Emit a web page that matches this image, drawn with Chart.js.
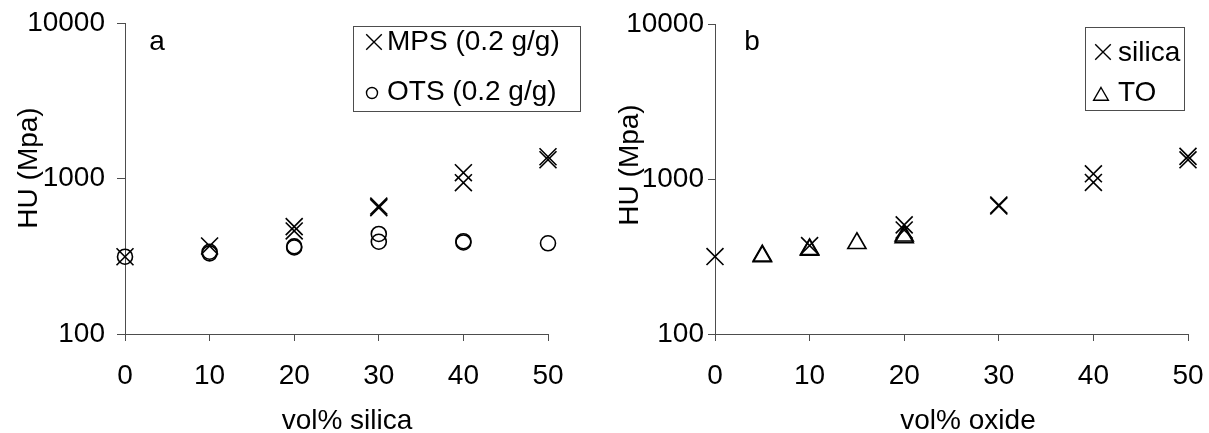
<!DOCTYPE html>
<html>
<head>
<meta charset="utf-8">
<script src="https://cdn.jsdelivr.net/npm/chart.js@4.4.1/dist/chart.umd.min.js"></script>
<style>
  html, body { margin: 0; padding: 0; background: #fff; }
  #wrap { position: relative; width: 1209px; height: 433px; overflow: hidden; }
  .panel { position: absolute; top: 0; }
  #panelA { left: 0; }
  #panelB { left: 600px; }
</style>
</head>
<body>
<div id="wrap">
  <div class="panel" id="panelA"><canvas id="chartA" width="600" height="433"></canvas></div>
  <div class="panel" id="panelB"><canvas id="chartB" width="609" height="433"></canvas></div>
</div>
<script>
// Axis ticks shared by both panels
const yTickValues = [100, 1000, 10000];
const xTickValues = [0, 10, 20, 30, 40, 50];

// Panel a: universal hardness vs silica content, two silane treatments
const mpsVol = [0, 10, 20, 20, 30, 30, 40, 40, 50, 50];
const mpsHU  = [314, 368, 490, 460, 650, 665, 1090, 940, 1380, 1320];
const otsVol = [0, 10, 10, 20, 20, 30, 30, 40, 40, 50];
const otsHU  = [314, 330, 338, 360, 366, 440, 392, 388, 395, 383];

// Panel b: universal hardness vs oxide content
const silicaVol = [0, 10, 20, 20, 30, 30, 40, 40, 50, 50];
const silicaHU  = [316, 372, 506, 469, 670, 680, 1080, 950, 1400, 1330];
const toVol = [5, 5, 10, 10, 15, 20, 20];
const toHU  = [316, 320, 348, 352, 385, 420, 430];

const FONT = '"Liberation Sans", Arial, sans-serif';
const FONT_SIZE = 28;
const AXIS_COLOR = '#4d4d4d';

const toPoints = (xs, ys) => xs.map((x, i) => ({ x, y: ys[i] }));

// Panel letter, axis titles and a boxed legend
const panelDecor = {
  id: 'panelDecor',
  afterDraw(chart, args, o) {
    const ctx = chart.ctx;
    ctx.save();
    ctx.fillStyle = '#000';
    ctx.font = FONT_SIZE + 'px ' + FONT;
    ctx.textBaseline = 'alphabetic';
    ctx.textAlign = 'center';
    ctx.fillText(o.letter, o.letterX, o.letterY);
    ctx.fillText(o.xTitle, o.xTitleX, o.xTitleY);
    ctx.save();
    ctx.translate(o.yTitleX, o.yTitleY);
    ctx.rotate(-Math.PI / 2);
    ctx.fillText(o.yTitle, 0, 0);
    ctx.restore();

    // legend box
    const b = o.legendBox;
    ctx.strokeStyle = AXIS_COLOR;
    ctx.lineWidth = 1;
    ctx.strokeRect(b.x + 0.5, b.y + 0.5, b.w, b.h);
    ctx.textAlign = 'left';
    chart.data.datasets.forEach((ds, i) => {
      const row = o.legendRows[i];
      ctx.strokeStyle = '#000';
      ctx.fillStyle = 'rgba(0,0,0,0)';
      ctx.lineWidth = 1.4;
      Chart.helpers.drawPoint(ctx, {
        pointStyle: ds.pointStyle, rotation: 0,
        radius: row.r, borderWidth: 1.4
      }, row.mx, row.my);
      ctx.fillStyle = '#000';
      ctx.fillText(ds.label, o.legendTextX, row.base);
    });
    ctx.restore();
  }
};

function makeScales(yLabelPad, yTickLen, yWidth) {
  return {
    x: {
      type: 'linear', min: 0, max: 50,
      afterBuildTicks: s => { s.ticks = xTickValues.map(v => ({ value: v })); },
      afterFit: s => { s.height = 99; s.paddingLeft = 0; s.paddingRight = 0; },
      border: { display: true, color: AXIS_COLOR, width: 1 },
      grid: { drawOnChartArea: false, drawTicks: true, tickLength: 7, color: AXIS_COLOR },
      ticks: { color: '#000', font: { family: FONT, size: FONT_SIZE }, padding: 18,
               maxRotation: 0, autoSkip: false, callback: v => String(v) }
    },
    y: {
      type: 'logarithmic', min: 100, max: 10000,
      afterBuildTicks: s => { s.ticks = yTickValues.map(v => ({ value: v })); },
      afterFit: s => { s.width = yWidth; s.paddingTop = 0; s.paddingBottom = 0; },
      border: { display: true, color: AXIS_COLOR, width: 1 },
      grid: { drawOnChartArea: false, drawTicks: true, tickLength: yTickLen, color: AXIS_COLOR },
      ticks: { color: '#000', font: { family: FONT, size: FONT_SIZE }, padding: yLabelPad,
               autoSkip: false, callback: v => String(v) }
    }
  };
}

function markerSet(label, pts, style, r) {
  return {
    label, data: pts, pointStyle: style, pointRadius: r, pointHoverRadius: r,
    pointBorderWidth: 1.6, borderColor: '#000', pointBorderColor: '#000',
    pointBackgroundColor: 'rgba(0,0,0,0)', backgroundColor: 'rgba(0,0,0,0)',
    showLine: false, clip: false
  };
}

const common = {
  responsive: false, animation: false, events: [],
  plugins: { legend: { display: false }, tooltip: { enabled: false } }
};

new Chart(document.getElementById('chartA'), {
  type: 'scatter',
  data: {
    datasets: [
      markerSet('MPS (0.2 g/g)', toPoints(mpsVol, mpsHU), 'crossRot', 12),
      markerSet('OTS (0.2 g/g)', toPoints(otsVol, otsHU), 'circle', 7.5)
    ]
  },
  options: Object.assign({}, common, {
    layout: { padding: { left: 0, right: 52, top: 23, bottom: 0 } },
    scales: makeScales(12, 8, 125),
    plugins: Object.assign({}, common.plugins, {
      panelDecor: {
        letter: 'a', letterX: 157, letterY: 50,
        xTitle: 'vol% silica', xTitleX: 347, xTitleY: 429,
        yTitle: 'HU (Mpa)', yTitleX: 37, yTitleY: 168,
        legendBox: { x: 353, y: 26, w: 227, h: 85 },
        legendTextX: 387,
        legendRows: [
          { mx: 374, my: 42, r: 11, base: 50 },
          { mx: 372, my: 93, r: 5.5, base: 100 }
        ]
      }
    })
  }),
  plugins: [panelDecor]
});

new Chart(document.getElementById('chartB'), {
  type: 'scatter',
  data: {
    datasets: [
      markerSet('silica', toPoints(silicaVol, silicaHU), 'crossRot', 12),
      markerSet('TO', toPoints(toVol, toHU), 'triangle', 10.5)
    ]
  },
  options: Object.assign({}, common, {
    layout: { padding: { left: 0, right: 21, top: 24, bottom: 0 } },
    scales: makeScales(4, 7, 115),
    plugins: Object.assign({}, common.plugins, {
      panelDecor: {
        letter: 'b', letterX: 152, letterY: 50,
        xTitle: 'vol% oxide', xTitleX: 368, xTitleY: 429,
        yTitle: 'HU (Mpa)', yTitleX: 38, yTitleY: 165,
        legendBox: { x: 485, y: 27, w: 99, h: 83 },
        legendTextX: 518,
        legendRows: [
          { mx: 503, my: 52, r: 11, base: 61 },
          { mx: 501, my: 96, r: 8.5, base: 101 }
        ]
      }
    })
  }),
  plugins: [panelDecor]
});
</script>
</body>
</html>
